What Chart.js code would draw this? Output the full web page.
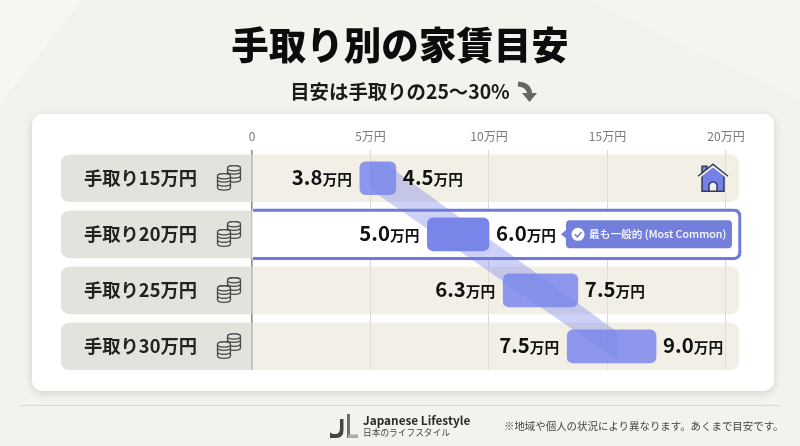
<!DOCTYPE html>
<html lang="ja">
<head>
<meta charset="utf-8">
<title>手取り別の家賃目安</title>
<script src="https://cdn.jsdelivr.net/npm/chart.js@4/dist/chart.umd.min.js"></script>
<style>
html, body { margin: 0; padding: 0; }
body {
	width: 800px; height: 446px; overflow: hidden; position: relative;
	font-family: "Noto Sans CJK JP", "Noto Sans", sans-serif;
	background:
		linear-gradient(128deg, rgba(255,255,255,.3) 0 7%, rgba(255,255,255,0) 7.2%),
		linear-gradient(205deg, rgba(255,255,255,.18) 0 12%, rgba(255,255,255,0) 12.2%),
		#f3f2ed;
}
#card {
	position: absolute; left: 32px; top: 114px; width: 742px; height: 277px;
	background: #fff; border-radius: 10px; box-shadow: 0 2px 8px rgba(0,0,0,.14);
}
#plot { position: absolute; left: 0; top: 0; }
#rule { position: absolute; left: 20px; top: 405px; width: 760px; height: 1px; background: #d9d8d3; }
#logo { position: absolute; left: 329px; top: 413px; }
.foot { position: absolute; white-space: nowrap; line-height: 1; }
#brand { left: 363px; top: 414px; font-size: 11.8px; font-weight: 700; color: #2b2b2b; }
#brand_sub { left: 363px; top: 429px; font-size: 8.7px; color: #444; }
#note { left: 504px; top: 421px; font-size: 10.45px; color: #444; }
</style>
</head>
<body>
<div id="card"></div>
<canvas id="plot" width="800" height="446"></canvas>
<div id="rule"></div>
<svg id="logo" width="30" height="27" viewBox="0 0 30 27">
	<path d="M11 6 H14.5 V17 Q14.5 25 7 25 H1 L1 19 Q2 21 6 21 Q11 21 11 15 Z" fill="#454545"/>
	<rect x="18" y="1" width="3" height="24" fill="#6e6e6e"/>
	<rect x="19" y="21.5" width="10" height="3.5" fill="#a9a9a6"/>
</svg>
<div class="foot" id="brand">Japanese Lifestyle</div>
<div class="foot" id="brand_sub">日本のライフスタイル</div>
<div class="foot" id="note">※地域や個人の状況により異なります。あくまで目安です。</div>
<script>
const rows = ['手取り15万円', '手取り20万円', '手取り25万円', '手取り30万円']
const barStart = [4.55, 7.4, 10.6, 13.3]
const barEnd = [6.07, 10.0, 13.75, 17.05]
const lowLabels = ['3.8', '5.0', '6.3', '7.5']
const highLabels = ['4.5', '6.0', '7.5', '9.0']
const tickValues = [0, 5, 10, 15, 20]
const tickLabels = ['0', '5万円', '10万円', '15万円', '20万円']
const bandX = [4.98, 5.53, 15.4, 15.4, 4.98, 4.98]
const bandY = [-0.295, -0.295, 2.74, 3.24, 0.196, -0.295]
const unit = '万円'
const highlightRow = 1
const badgeText = '最も一般的 (Most Common)'

const font = '"Noto Sans CJK JP", "Noto Sans", sans-serif'

function coins(ctx, x, y) {
	const stack = (cx, top, n) => {
		ctx.fillStyle = '#e3e2dc'
		for (let i = n - 1; i >= 0; i--) {
			const cy = top + i * 4
			ctx.beginPath()
			ctx.moveTo(cx - 6.5, cy)
			ctx.lineTo(cx - 6.5, cy + 3.4)
			ctx.ellipse(cx, cy + 3.4, 6.5, 2.6, 0, Math.PI, 0, true)
			ctx.lineTo(cx + 6.5, cy)
			ctx.ellipse(cx, cy, 6.5, 2.6, 0, 0, Math.PI, true)
			ctx.closePath()
			ctx.fill()
			ctx.stroke()
		}
		ctx.beginPath()
		ctx.ellipse(cx, top, 6.5, 2.6, 0, 0, Math.PI * 2)
		ctx.fill()
		ctx.stroke()
	}
	ctx.save()
	ctx.strokeStyle = '#4a4a48'
	ctx.lineWidth = 1.3
	stack(x + 10, y - 9, 3)
	stack(x + 0, y - 1, 3)
	ctx.restore()
}

function house(ctx, x, y) {
	ctx.save()
	ctx.lineJoin = 'miter'
	ctx.strokeStyle = '#343a5c'
	ctx.fillStyle = '#7480e8'
	ctx.lineWidth = 1.5
	ctx.beginPath()
	ctx.rect(x + 5, y + 2, 5, 8)
	ctx.fill()
	ctx.stroke()
	ctx.beginPath()
	ctx.moveTo(x + 5, y + 11)
	ctx.lineTo(x + 16, y + 2)
	ctx.lineTo(x + 27, y + 11)
	ctx.lineTo(x + 27, y + 27)
	ctx.lineTo(x + 5, y + 27)
	ctx.closePath()
	ctx.fill()
	ctx.stroke()
	ctx.fillStyle = '#f1efe6'
	ctx.beginPath()
	ctx.moveTo(x + 12, y + 27)
	ctx.lineTo(x + 12, y + 20)
	ctx.quadraticCurveTo(x + 16, y + 15, x + 20, y + 20)
	ctx.lineTo(x + 20, y + 27)
	ctx.closePath()
	ctx.fill()
	ctx.stroke()
	ctx.strokeStyle = '#f7f6f0'
	ctx.lineWidth = 2
	ctx.beginPath()
	ctx.moveTo(x + 2, y + 13)
	ctx.lineTo(x + 16, y + 2)
	ctx.lineTo(x + 30, y + 13)
	ctx.stroke()
	ctx.strokeStyle = '#343a5c'
	ctx.lineWidth = 1.5
	ctx.beginPath()
	ctx.moveTo(x + 1, y + 12)
	ctx.lineTo(x + 16, y + 0)
	ctx.lineTo(x + 31, y + 12)
	ctx.stroke()
	ctx.restore()
}

function valueText(ctx, num, x, y, align) {
	ctx.textBaseline = 'alphabetic'
	ctx.textAlign = 'left'
	ctx.fillStyle = '#111'
	ctx.font = '700 20.4px ' + font
	const w1 = ctx.measureText(num).width
	ctx.font = '700 14.7px ' + font
	const w2 = ctx.measureText(unit).width
	const left = align == 'right' ? x - w1 - w2 : x
	ctx.font = '700 20.4px ' + font
	ctx.fillText(num, left, y + 7)
	ctx.font = '700 14.7px ' + font
	ctx.fillText(unit, left + w1, y + 7)
}

const marksPlugin = {
	id: 'marks',
	afterDatasetsDraw(chart) {
		const ctx = chart.ctx
		const xs = chart.scales.x, ys = chart.scales.y
		ctx.save()
		rows.forEach((r, i) => {
			const y = ys.getPixelForValue(i)
			valueText(ctx, lowLabels[i], xs.getPixelForValue(barStart[i]) - 8, y, 'right')
			valueText(ctx, highLabels[i], xs.getPixelForValue(barEnd[i]) + 7, y, 'left')
			coins(ctx, 224, y - 1)
		})
		house(ctx, 697, ys.getPixelForValue(0) - 14)

		// badge on the highlighted row
		const by = ys.getPixelForValue(highlightRow)
		ctx.fillStyle = '#737fdb'
		ctx.beginPath()
		ctx.roundRect(566, by - 14, 166, 28, 4)
		ctx.fill()
		ctx.beginPath()
		ctx.moveTo(567, by - 5)
		ctx.lineTo(561, by)
		ctx.lineTo(567, by + 5)
		ctx.fill()
		ctx.fillStyle = '#fff'
		ctx.beginPath()
		ctx.arc(578, by, 6.5, 0, Math.PI * 2)
		ctx.fill()
		ctx.strokeStyle = '#737fdb'
		ctx.lineWidth = 1.6
		ctx.beginPath()
		ctx.moveTo(574.8, by)
		ctx.lineTo(577.3, by + 2.6)
		ctx.lineTo(581.6, by - 2.4)
		ctx.stroke()
		ctx.fillStyle = '#fff'
		ctx.font = '500 10.7px ' + font
		ctx.textAlign = 'left'
		ctx.textBaseline = 'middle'
		ctx.fillText(badgeText, 589, by)

		// arrow after the subtitle
		ctx.strokeStyle = '#666'
		ctx.lineWidth = 5
		ctx.beginPath()
		ctx.moveTo(518, 84)
		ctx.quadraticCurveTo(530, 85, 529.5, 95)
		ctx.stroke()
		ctx.fillStyle = '#666'
		ctx.beginPath()
		ctx.moveTo(522, 93)
		ctx.lineTo(537, 93)
		ctx.lineTo(529.5, 102)
		ctx.fill()
		ctx.restore()
	}
}

const rowEnd = 20.55

new Chart(document.getElementById('plot'), {
	type: 'bar',
	plugins: [marksPlugin],
	data: {
		datasets: [
			{
				label: 'label panel',
				indexAxis: 'y', grouped: false, order: 10, barThickness: 47,
				data: rows.map((r, i) => ({ x: [-8.06, -0.03], y: i })),
				backgroundColor: '#e3e2dc',
				borderRadius: { topLeft: 9, bottomLeft: 9, topRight: 0, bottomRight: 0 },
				borderSkipped: false,
			},
			{
				label: 'row',
				indexAxis: 'y', grouped: false, order: 10, barThickness: 47,
				data: rows.map((r, i) => ({ x: [0, rowEnd], y: i })),
				backgroundColor: 'rgba(232,228,214,0.6)',
				borderRadius: { topLeft: 0, bottomLeft: 0, topRight: 9, bottomRight: 9 },
				borderSkipped: false,
			},
			{
				label: 'highlight fill',
				indexAxis: 'y', grouped: false, order: 9, barThickness: 51, clip: false,
				data: [{ x: [0.03, 20.64], y: highlightRow }],
				backgroundColor: '#fff',
				borderRadius: { topLeft: 0, bottomLeft: 0, topRight: 7, bottomRight: 7 },
				borderSkipped: false,
			},
			{
				type: 'line',
				label: 'band',
				order: 8,
				data: bandX.map((x, i) => ({ x: x, y: bandY[i] })),
				backgroundColor: 'rgba(118,128,232,0.36)',
				borderWidth: 0,
				pointRadius: 0,
				tension: 0,
				fill: 'shape',
			},
			{
				label: 'highlight border',
				indexAxis: 'y', grouped: false, order: 7, barThickness: 51, clip: false,
				data: [{ x: [0.03, 20.64], y: highlightRow }],
				backgroundColor: 'rgba(0,0,0,0)',
				borderColor: '#6f7bd8',
				borderWidth: 2.5,
				borderRadius: { topLeft: 0, bottomLeft: 0, topRight: 7, bottomRight: 7 },
				borderSkipped: 'left',
			},
			{
				label: 'range',
				indexAxis: 'y', grouped: false, order: 5, barThickness: 33,
				data: rows.map((r, i) => ({ x: [barStart[i], barEnd[i]], y: i })),
				backgroundColor: rows.map((r, i) => i == highlightRow ? '#7a85ea' : 'rgba(118,130,236,0.8)'),
				borderRadius: 6,
				borderSkipped: false,
			},
		]
	},
	options: {
		responsive: false,
		animation: false,
		layout: { padding: { left: 61, right: 61, top: 22, bottom: 76 } },
		plugins: {
			legend: { display: false },
			tooltip: { enabled: false },
			title: {
				display: true,
				text: '手取り別の家賃目安',
				color: '#0c0c0c',
				font: { family: font, size: 37.5, weight: '900' },
				padding: { top: 0, bottom: 13 },
			},
			subtitle: {
				display: true,
				text: '目安は手取りの25〜30%',
				color: '#1a1a1a',
				font: { family: font, size: 19.4, weight: '700' },
				padding: { top: 0, bottom: 20 },
			},
		},
		scales: {
			x: {
				type: 'linear',
				position: 'top',
				offset: false,
				min: -8.06,
				max: rowEnd,
				afterBuildTicks: scale => { scale.ticks = tickValues.map(v => ({ value: v })) },
				border: { display: false },
				grid: {
					offset: false,
					drawTicks: false,
					color: c => c.tick && c.tick.value === 0 ? '#8d8d89' : '#d6d6d1',
					lineWidth: c => c.tick && c.tick.value === 0 ? 1.6 : 1,
				},
				ticks: {
					padding: 6,
					autoSkip: false,
					maxRotation: 0,
					color: '#7a7a7a',
					font: { family: font, size: 12 },
					callback: v => tickLabels[tickValues.indexOf(v)],
				},
			},
			y: {
				type: 'linear',
				position: 'left',
				reverse: true,
				offset: false,
				min: -0.509,
				max: 3.42,
				afterBuildTicks: scale => { scale.ticks = rows.map((r, i) => ({ value: i })) },
				afterFit: scale => { scale.width = 0 },
				border: { display: false },
				grid: { display: false, drawTicks: false, offset: false },
				ticks: {
					mirror: true,
					padding: 23,
					z: 1,
					color: '#222',
					font: { family: font, size: 18.3, weight: '700' },
					callback: v => rows[v],
				},
			},
		},
	},
})
</script>
</body>
</html>
